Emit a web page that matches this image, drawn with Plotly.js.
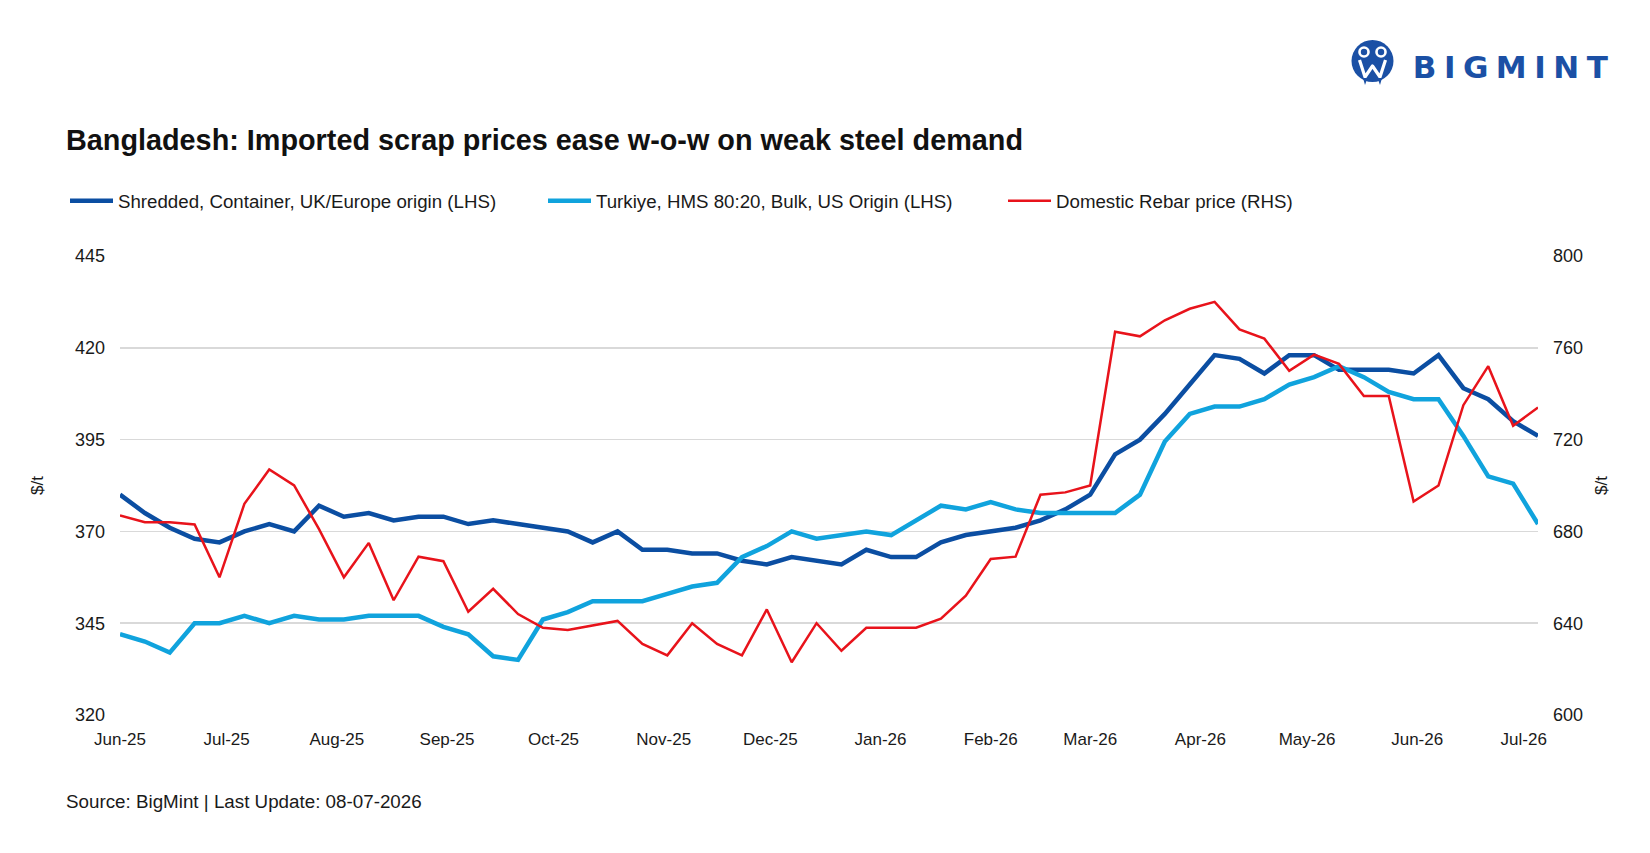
<!DOCTYPE html>
<html><head><meta charset="utf-8">
<script src="https://cdn.plot.ly/plotly-3.0.1.min.js"></script>
<style>html,body{margin:0;padding:0;background:#fff;} #chart{width:1650px;height:853px;}</style>
</head><body><div id="chart"></div>
<script>
const dates = [
 '2025-06-01','2025-06-08','2025-06-15','2025-06-22','2025-06-29',
 '2025-07-06','2025-07-13','2025-07-20','2025-07-27',
 '2025-08-03','2025-08-10','2025-08-17','2025-08-24','2025-08-31',
 '2025-09-07','2025-09-14','2025-09-21','2025-09-28',
 '2025-10-05','2025-10-12','2025-10-19','2025-10-26',
 '2025-11-02','2025-11-09','2025-11-16','2025-11-23','2025-11-30',
 '2025-12-07','2025-12-14','2025-12-21','2025-12-28',
 '2026-01-04','2026-01-11','2026-01-18','2026-01-25',
 '2026-02-01','2026-02-08','2026-02-15','2026-02-22',
 '2026-03-01','2026-03-08','2026-03-15','2026-03-22','2026-03-29',
 '2026-04-05','2026-04-12','2026-04-19','2026-04-26',
 '2026-05-03','2026-05-10','2026-05-17','2026-05-24','2026-05-31',
 '2026-06-07','2026-06-14','2026-06-21','2026-06-28',
 '2026-07-05'
];
const shredded = [380,375,371,368,367,370,372,370,377,374,375,373,374,374,372,373,372,371,370,367,
 370,365,365,364,364,362,361,363,362,361,365,363,363,367,369,370,371,373,376,380,
 391,395,402,410,418,417,413,418,418,414,414,414,413,418,409,406,400,396];
const turkiye = [342,340,337,345,345,347,345,347,346,346,347,347,347,344,342,336,335,346,348,351,
 351,351,353,355,356,363,366,370,368,369,370,369,373,377,376,378,376,375,375,375,
 375,380,394.5,402,404,404,406,410,412,415,412,408,406,406,396,385,383,372];
const rebar = [687,684,684,683,660,692,707,700,681,660,675,650,669,667,645,655,644,638,637,639,
 641,631,626,640,631,626,646,623,640,628,638,638,638,642,652,668,669,696,697,700,
 767,765,772,777,780,768,764,750,757,753,739,739,693,700,735,752,726,734];
const seriesNames = ['Shredded, Container, UK/Europe origin (LHS)','Turkiye, HMS 80:20, Bulk, US Origin (LHS)','Domestic Rebar price (RHS)'];
const leftTicks = [320,345,370,395,420,445];
const rightTicks = [600,640,680,720,760,800];
const chartTitle = 'Bangladesh: Imported scrap prices ease w-o-w on weak steel demand';
const sourceText = 'Source: BigMint | Last Update: 08-07-2026';
const logoText = 'BIGMINT';

const FONT = 'Liberation Sans, Arial, sans-serif';
const W = 1650, H = 853;
const M = {l:120, r:112, t:256, b:138};
const pw = W - M.l - M.r, ph = H - M.t - M.b;
const px2x = p => (p - M.l) / pw;
const py2y = p => (H - M.b - p) / ph;

const traces = [
 {x:dates, y:shredded, name:seriesNames[0], mode:'lines', line:{color:'#0B4EA2', width:4.5}, legend:'legend', hoverinfo:'skip'},
 {x:dates, y:turkiye, name:seriesNames[1], mode:'lines', line:{color:'#10A3DD', width:4.5}, legend:'legend2', hoverinfo:'skip'},
 {x:dates, y:rebar, name:seriesNames[2], mode:'lines', yaxis:'y2', line:{color:'#E8131B', width:2.5}, legend:'legend3', hoverinfo:'skip'}
];

const legendBase = {xref:'container', yref:'container', y:1-201/H, yanchor:'middle', orientation:'h',
  bgcolor:'rgba(0,0,0,0)', font:{family:FONT, size:18.7, color:'#1a1a1a'}, itemwidth:43};

const iconSvg = '<svg xmlns="http://www.w3.org/2000/svg" viewBox="0 0 43 47">'+
 '<circle cx="21.5" cy="22" r="21" fill="#1B50A5"/>'+
 '<circle cx="13" cy="13" r="5.8" fill="#fff"/><circle cx="13" cy="13" r="3.2" fill="#1B50A5"/>'+
 '<circle cx="30" cy="13" r="5.8" fill="#fff"/><circle cx="30" cy="13" r="3.2" fill="#1B50A5"/>'+
 '<path d="M8.5,21 L14,38 L21.5,27 L29,38 L34.5,21" stroke="#fff" stroke-width="3.2" fill="none" stroke-linejoin="round"/>'+
 '<path d="M12,39 L14,46 L16.5,39 Z M26.5,39 L29,46 L31,39 Z" fill="#1B50A5"/>'+
 '</svg>';

const logoSpacing = 7.5;
const layout = {
  width:W, height:H, margin:M, paper_bgcolor:'#fff', plot_bgcolor:'#fff',
  font:{family:FONT, color:'#1a1a1a'},
  title:{text:chartTitle, xref:'container', yref:'container', x:66/W, xanchor:'left', y:1-140/H, yanchor:'middle',
    font:{family:FONT, size:28.8, weight:'bold', color:'#111'}},
  xaxis:{type:'date', range:[dates[0], dates[dates.length-1]], tickformat:'%b-%y', dtick:'M1', tick0:'2025-06-01',
    showgrid:false, zeroline:false, showline:false, ticks:'', ticklabelstandoff:12,
    tickfont:{family:FONT, size:17, color:'#1a1a1a'}},
  yaxis:{range:[leftTicks[0], leftTicks[leftTicks.length-1]], tickvals:leftTicks, gridcolor:'#d9d9d9', gridwidth:1.5,
    zeroline:false, showline:false, ticks:'', ticklabelstandoff:14, tickfont:{family:FONT, size:18, color:'#1a1a1a'},
    title:{text:'$/t', standoff:27, font:{family:FONT, size:17, color:'#1a1a1a'}}},
  yaxis2:{overlaying:'y', side:'right', range:[rightTicks[0], rightTicks[rightTicks.length-1]], tickvals:rightTicks,
    showgrid:false, zeroline:false, showline:false, ticks:'', ticklabelstandoff:14, tickfont:{family:FONT, size:18, color:'#1a1a1a'},
    title:{text:'$/t', standoff:13, font:{family:FONT, size:17, color:'#1a1a1a'}}},
  showlegend:true,
  legend:Object.assign({}, legendBase, {x:65/W}),
  legend2:Object.assign({}, legendBase, {x:543/W}),
  legend3:Object.assign({}, legendBase, {x:1003/W}),
  annotations:[
    {text:sourceText, xref:'paper', yref:'paper', x:px2x(64), y:py2y(801), xanchor:'left', yanchor:'middle', showarrow:false,
     font:{family:FONT, size:18.8, color:'#1a1a1a'}},
    {text:logoText, xref:'paper', yref:'paper', x:px2x(1514), y:py2y(67), xanchor:'center', yanchor:'middle', showarrow:false,
     font:{family:'DejaVu Sans, sans-serif', size:31, weight:'bold', color:'#1B50A5'}}
  ],
  images:[{source:'data:image/svg+xml;base64,'+btoa(iconSvg), xref:'paper', yref:'paper', x:px2x(1351), y:py2y(39),
    sizex:43/pw, sizey:47/ph, xanchor:'left', yanchor:'top', sizing:'stretch', layer:'above'}]
};

Plotly.newPlot('chart', traces, layout, {staticPlot:true, displayModeBar:false}).then(gd => {
  gd.querySelectorAll('.annotation-text').forEach(t => {
    if (t.textContent === logoText) { t.style.letterSpacing = logoSpacing + 'px'; }
  });
});
</script>
</body></html>
